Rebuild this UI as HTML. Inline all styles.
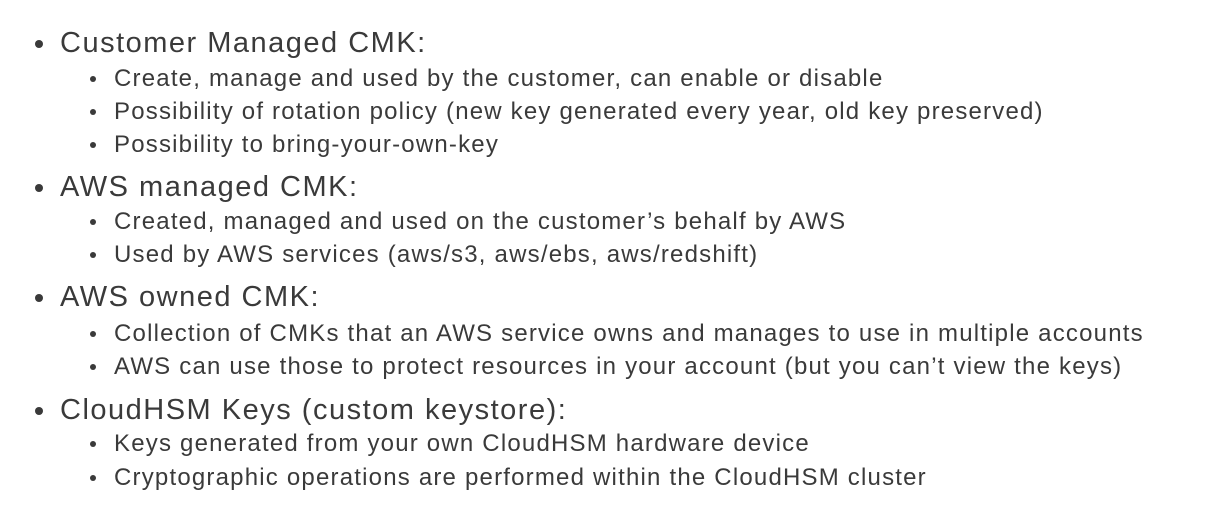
<!DOCTYPE html>
<html><head><meta charset="utf-8"><style>
body{margin:0;width:1213px;height:520px;background:#fff;position:relative;overflow:hidden;font-family:"Liberation Sans",sans-serif;color:#3a3a3a}
.t{position:absolute;white-space:nowrap;line-height:1}
.l1{font-size:29px;left:60px;letter-spacing:1.5px}
.l2{font-size:24px;left:114px;letter-spacing:1.2px}
.b1,.b2{position:absolute;border-radius:50%;background:#3a3a3a}
.b1{width:8px;height:8px;left:35px}
.b2{width:6px;height:6px;left:90px}
</style></head><body>
<div class="b1" style="top:40px"></div><div class="t l1" style="top:29px">Customer Managed CMK:</div>
<div class="b2" style="top:76px"></div><div class="t l2" style="top:67px">Create, manage and used by the customer, can enable or disable</div>
<div class="b2" style="top:109px"></div><div class="t l2" style="top:100px">Possibility of rotation policy (new key generated every year, old key preserved)</div>
<div class="b2" style="top:142px"></div><div class="t l2" style="top:133px">Possibility to bring-your-own-key</div>
<div class="b1" style="top:184px"></div><div class="t l1" style="top:173px">AWS managed CMK:</div>
<div class="b2" style="top:219px"></div><div class="t l2" style="top:210px">Created, managed and used on the customer’s behalf by AWS</div>
<div class="b2" style="top:252px"></div><div class="t l2" style="top:243px">Used by AWS services (aws/s3, aws/ebs, aws/redshift)</div>
<div class="b1" style="top:294px"></div><div class="t l1" style="top:283px">AWS owned CMK:</div>
<div class="b2" style="top:331px"></div><div class="t l2" style="top:322px">Collection of CMKs that an AWS service owns and manages to use in multiple accounts</div>
<div class="b2" style="top:364px"></div><div class="t l2" style="top:355px">AWS can use those to protect resources in your account (but you can’t view the keys)</div>
<div class="b1" style="top:407px"></div><div class="t l1" style="top:396px">CloudHSM Keys (custom keystore):</div>
<div class="b2" style="top:441px"></div><div class="t l2" style="top:432px">Keys generated from your own CloudHSM hardware device</div>
<div class="b2" style="top:475px"></div><div class="t l2" style="top:466px">Cryptographic operations are performed within the CloudHSM cluster</div>
</body></html>
